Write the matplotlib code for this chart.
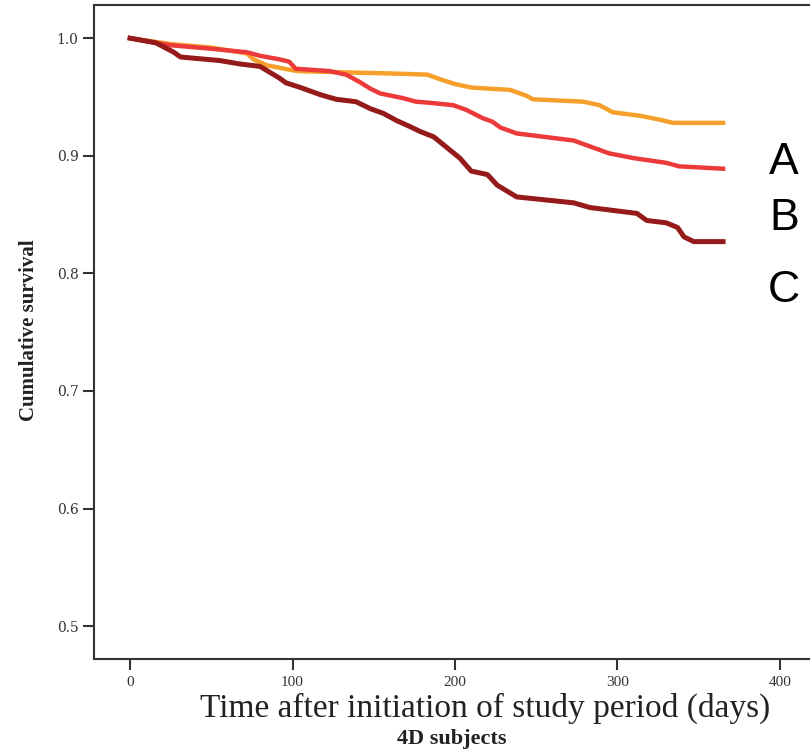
import matplotlib
matplotlib.use("Agg")
from matplotlib import pyplot as plt

# survival curves (days, cumulative survival)
days_a = [0, 10, 25, 50, 72, 76, 84, 95, 103, 130, 160, 183, 191, 200, 210, 234, 244, 248, 279, 289, 297, 314, 325, 334, 365]
surv_a = [1.0, 0.998, 0.995, 0.992, 0.987, 0.982, 0.977, 0.974, 0.972, 0.971, 0.970, 0.969, 0.965, 0.961, 0.958, 0.956, 0.951, 0.948, 0.946, 0.943, 0.937, 0.934, 0.931, 0.928, 0.928]

days_b = [0, 12, 25, 50, 72, 80, 92, 98, 102, 123, 133, 141, 148, 154, 168, 176, 185, 199, 207, 217, 223, 228, 238, 273, 285, 295, 310, 330, 338, 365]
surv_b = [1.0, 0.997, 0.994, 0.991, 0.988, 0.985, 0.982, 0.980, 0.974, 0.972, 0.969, 0.963, 0.957, 0.953, 0.949, 0.946, 0.945, 0.943, 0.939, 0.932, 0.929, 0.924, 0.919, 0.913, 0.907, 0.902, 0.898, 0.894, 0.891, 0.889]

days_c = [0, 16, 27, 31, 55, 68, 80, 86, 92, 96, 105, 117, 127, 139, 148, 156, 164, 172, 178, 187, 195, 203, 210, 220, 226, 238, 252, 273, 283, 312, 318, 330, 337, 341, 347, 365]
surv_c = [1.0, 0.996, 0.988, 0.984, 0.981, 0.978, 0.976, 0.971, 0.966, 0.962, 0.958, 0.952, 0.948, 0.946, 0.940, 0.936, 0.930, 0.925, 0.921, 0.916, 0.907, 0.898, 0.887, 0.884, 0.875, 0.865, 0.863, 0.860, 0.856, 0.851, 0.845, 0.843, 0.839, 0.831, 0.827, 0.827]

xticks = [0, 100, 200, 300, 400]
yticks = [0.5, 0.6, 0.7, 0.8, 0.9, 1.0]

serif = "Liberation Serif"

fig = plt.figure(figsize=(8.1, 7.49), dpi=100)
ax = fig.add_axes([0.116, 0.120, 0.884, 0.873])

ax.plot(days_a, surv_a, color="#F6A02B", lw=3.2, solid_joinstyle="round")
ax.plot(days_b, surv_b, color="#EC3A3A", lw=3.2, solid_joinstyle="round")
ax.plot(days_c, surv_c, color="#951B1B", lw=3.6, solid_joinstyle="round")

ax.set_xlim(-22.2, 418.5)
ax.set_ylim(0.472, 1.028)
ax.set_xticks(xticks)
ax.set_yticks(yticks)
ax.set_yticklabels([f"{v:.1f}" for v in yticks], fontfamily="DejaVu Serif", fontsize=10, color="#333333")
ax.set_xticklabels([str(v) for v in xticks], fontfamily=serif, fontsize=11, color="#333333")
ax.tick_params(direction="out", length=8, width=1.5, color="#333333", pad=3)
ax.tick_params(axis="x", pad=4)
for side in ["left", "top", "bottom"]:
    ax.spines[side].set_linewidth(1.5)
    ax.spines[side].set_color("#333333")
ax.spines["right"].set_visible(False)

fig.text(0.599, 0.054, "Time after initiation of study period (days)", fontfamily=serif,
         fontsize=24, ha="center", va="center", color="#222222")
fig.text(0.558, 0.014, "4D subjects", fontfamily=serif, fontweight="bold",
         fontsize=16, ha="center", va="center", color="#222222")
fig.text(0.036, 0.559, "Cumulative survival", fontfamily=serif, fontweight="bold",
         fontsize=15, rotation=90, ha="center", va="center", color="#222222")

for lab, yy in [("A", 163), ("B", 218), ("C", 290)]:
    fig.text(784 / 810, 1 - yy / 749, lab, fontfamily="Liberation Sans", fontsize=32,
             ha="center", va="center", color="black")

fig.savefig("out.png", dpi=100)
